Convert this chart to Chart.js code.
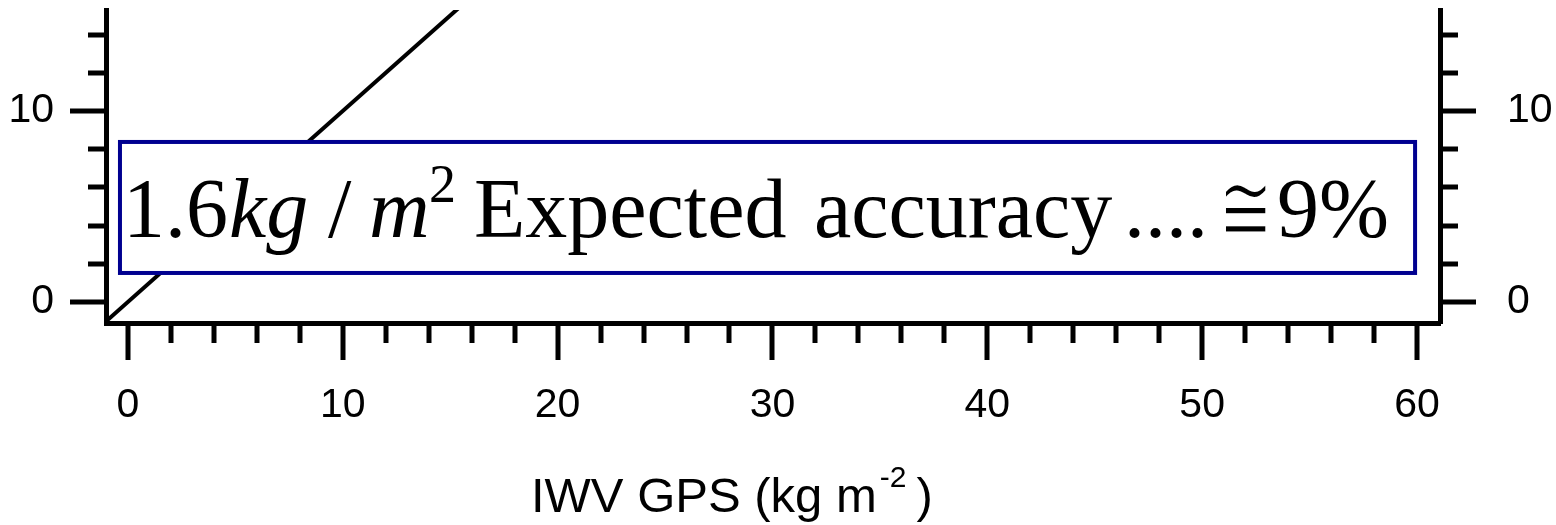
<!DOCTYPE html>
<html lang="en">
<head>
    <meta charset="UTF-8">
    <title>IWV GPS</title>
    <script src="https://cdn.jsdelivr.net/npm/chart.js"></script>
    <style>
        html, body { margin: 0; padding: 0; background: #fff; }
    </style>
</head>
<body>
    <canvas id="iwvChart" width="1556" height="525"></canvas>

    <script>
        // 1:1 line (IWV GPS = IWV other)
        var lineX = [-1, 16];
        var lineY = [-1, 16];

        // labelled ticks
        var xTickLabels = [0, 10, 20, 30, 40, 50, 60];
        var yTickLabels = [0, 10];

        // all tick marks (every 2 units, long ones at multiples of 10)
        var xTickMarks = [0, 2, 4, 6, 8, 10, 12, 14, 16, 18, 20, 22, 24, 26, 28, 30,
                          32, 34, 36, 38, 40, 42, 44, 46, 48, 50, 52, 54, 56, 58, 60];
        var yTickMarks = [0, 2, 4, 6, 8, 10, 12, 14];

        // text of the annotation box and the axis title
        var boxParts = [
            { text: '1.6', italic: false, size: 84, dx: 3, dy: 95 },
            { text: 'kg', italic: true, size: 84, dx: 109, dy: 95 },
            { text: '/', italic: false, size: 84, dx: 208, dy: 95 },
            { text: 'm', italic: true, size: 84, dx: 249, dy: 95 },
            { text: '2', italic: false, size: 54, dx: 309, dy: 60 },
            { text: 'Expected', italic: false, size: 84, dx: 354, dy: 95 },
            { text: 'accuracy', italic: false, size: 84, dx: 694, dy: 95 },
            { text: '....', italic: false, size: 84, dx: 1004, dy: 95 },
            { text: '\u2245', italic: false, size: 100, dx: 1126, dy: 100, squeeze: 0.66 },
            { text: '9%', italic: false, size: 84, dx: 1157, dy: 95 }
        ];
        var xTitle = 'IWV GPS (kg m';
        var xTitleSup = '-2';
        var xTitleEnd = ')';

        var sansFont = '"Liberation Sans", Arial, sans-serif';
        var serifFont = '"Liberation Serif", "DejaVu Serif", serif';

        // box corners in data units
        var boxArea = { x1: -0.37, x2: 59.91, y1: 1.52, y2: 8.38 };

        var decor = {
            id: 'decor',
            afterDatasetsDraw: function (chart) {
                var ctx = chart.ctx;
                var xs = chart.scales.x, ys = chart.scales.y;
                var left = xs.getPixelForValue(boxArea.x1);
                var right = xs.getPixelForValue(boxArea.x2);
                var top = ys.getPixelForValue(boxArea.y2);
                var bottom = ys.getPixelForValue(boxArea.y1);

                ctx.save();
                ctx.fillStyle = '#fff';
                ctx.fillRect(left, top, right - left, bottom - top);
                ctx.strokeStyle = '#000090';
                ctx.lineWidth = 4;
                ctx.strokeRect(left, top, right - left, bottom - top);

                ctx.fillStyle = '#000';
                ctx.textBaseline = 'alphabetic';
                boxParts.forEach(function (p) {
                    var bx = left + p.dx, by = top + p.dy;
                    ctx.font = (p.italic ? 'italic ' : '') + p.size + 'px ' + serifFont;
                    if (p.squeeze) {
                        // the symbol falls back to a wider, heavier font: narrow and thin it
                        ctx.save();
                        ctx.textAlign = 'center';
                        ctx.translate(bx, by);
                        ctx.scale(p.squeeze, 1);
                        ctx.fillText(p.text, 0, 0);
                        ctx.strokeStyle = '#fff';
                        ctx.lineWidth = 3;
                        ctx.strokeText(p.text, 0, 0);
                        ctx.restore();
                    } else {
                        ctx.textAlign = 'left';
                        ctx.fillText(p.text, bx, by);
                    }
                });
                ctx.restore();
            },
            afterDraw: function (chart) {
                var ctx = chart.ctx;
                var xs = chart.scales.x, ys = chart.scales.y;
                var area = chart.chartArea;

                ctx.save();
                ctx.strokeStyle = '#000';
                ctx.lineWidth = 5;
                ctx.lineCap = 'butt';
                ctx.beginPath();
                xTickMarks.forEach(function (v) {
                    var px = Math.round(xs.getPixelForValue(v));
                    var len = v % 10 === 0 ? 37 : 20;
                    ctx.moveTo(px, area.bottom);
                    ctx.lineTo(px, area.bottom + len);
                });
                yTickMarks.forEach(function (v) {
                    var py = Math.round(ys.getPixelForValue(v));
                    var len = v % 10 === 0 ? 36 : 18;
                    ctx.moveTo(area.left, py);
                    ctx.lineTo(area.left - len, py);
                    ctx.moveTo(area.right, py);
                    ctx.lineTo(area.right + len, py);
                });
                ctx.stroke();

                // axis title with superscript
                ctx.fillStyle = '#000';
                ctx.textAlign = 'left';
                ctx.textBaseline = 'alphabetic';
                var tx = 531, ty = 512;
                ctx.font = '49px ' + sansFont;
                ctx.fillText(xTitle, tx, ty);
                tx += ctx.measureText(xTitle).width + 3;
                ctx.font = '30px ' + sansFont;
                ctx.fillText(xTitleSup, tx, ty - 25);
                tx += ctx.measureText(xTitleSup).width + 10;
                ctx.font = '49px ' + sansFont;
                ctx.fillText(xTitleEnd, tx, ty);
                ctx.restore();
            }
        };

        function fixedTicks(values) {
            return function (scale) {
                scale.ticks = values.map(function (v) { return { value: v }; });
            };
        }

        var tickFont = { family: sansFont, size: 41 };

        var config = {
            type: 'line',
            data: {
                datasets: [{
                    label: '1:1',
                    data: lineX.map(function (x, i) { return { x: x, y: lineY[i] }; }),
                    borderColor: '#000',
                    borderWidth: 4,
                    pointRadius: 0,
                    fill: false,
                    tension: 0
                }]
            },
            options: {
                responsive: false,
                animation: false,
                layout: { padding: { top: 10, left: 0, right: 0, bottom: 0 } },
                plugins: {
                    legend: { display: false },
                    tooltip: { enabled: false }
                },
                scales: {
                    x: {
                        type: 'linear',
                        position: 'bottom',
                        min: -1.02,
                        max: 61.07,
                        afterBuildTicks: fixedTicks(xTickLabels),
                        afterFit: function (s) { s.height = 202; s.paddingLeft = 0; s.paddingRight = 0; },
                        grid: { display: false, drawTicks: false },
                        border: { display: true, color: '#000', width: 5 },
                        ticks: { color: '#000', font: tickFont, padding: 58, maxRotation: 0, autoSkip: false }
                    },
                    y: {
                        type: 'linear',
                        position: 'left',
                        min: -1.1,
                        max: 15.29,
                        afterBuildTicks: fixedTicks(yTickLabels),
                        afterFit: function (s) { s.width = 106; s.paddingTop = 0; s.paddingBottom = 0; },
                        grid: { display: false, drawTicks: false },
                        border: { display: true, color: '#000', width: 5 },
                        ticks: { color: '#000', font: tickFont, padding: 52 }
                    },
                    y2: {
                        type: 'linear',
                        position: 'right',
                        min: -1.1,
                        max: 15.29,
                        afterBuildTicks: fixedTicks(yTickLabels),
                        afterFit: function (s) { s.width = 116; s.paddingTop = 0; s.paddingBottom = 0; },
                        grid: { display: false, drawTicks: false },
                        border: { display: true, color: '#000', width: 5 },
                        ticks: { color: '#000', font: tickFont, padding: 67 }
                    }
                }
            },
            plugins: [decor]
        };

        var myChart = new Chart(document.getElementById('iwvChart'), config);
    </script>
</body>
</html>
